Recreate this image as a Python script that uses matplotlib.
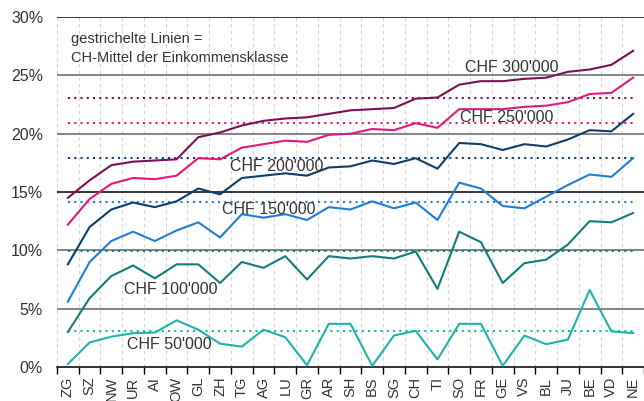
import matplotlib
matplotlib.use('Agg')
import matplotlib.pyplot as plt
import numpy as np

plt.rcParams['font.family'] = ['Liberation Sans', 'DejaVu Sans']

cantons = ['ZG', 'SZ', 'NW', 'UR', 'AI', 'OW', 'GL', 'ZH', 'TG', 'AG', 'LU', 'GR', 'AR', 'SH',
           'BS', 'SG', 'CH', 'TI', 'SO', 'FR', 'GE', 'VS', 'BL', 'JU', 'BE', 'VD', 'NE']

chf300 = [14.5, 16.0, 17.3, 17.6, 17.7, 17.8, 19.7, 20.1, 20.7, 21.1, 21.3, 21.4, 21.7, 22.0,
          22.1, 22.2, 23.0, 23.1, 24.2, 24.5, 24.5, 24.7, 24.8, 25.3, 25.5, 25.9, 27.1]
chf250 = [12.2, 14.4, 15.7, 16.2, 16.1, 16.4, 17.9, 17.8, 18.8, 19.1, 19.4, 19.3, 19.9, 20.0,
          20.4, 20.3, 20.9, 20.5, 22.1, 22.1, 22.1, 22.3, 22.4, 22.7, 23.4, 23.5, 24.8]
chf200 = [8.8, 12.0, 13.5, 14.1, 13.7, 14.2, 15.3, 14.8, 16.2, 16.4, 16.6, 16.4, 17.1, 17.2,
          17.7, 17.4, 17.9, 17.0, 19.2, 19.1, 18.6, 19.1, 18.9, 19.5, 20.3, 20.2, 21.7]
chf150 = [5.6, 9.0, 10.8, 11.6, 10.8, 11.7, 12.4, 11.1, 13.1, 12.8, 13.1, 12.6, 13.7, 13.5,
          14.2, 13.6, 14.1, 12.6, 15.8, 15.3, 13.8, 13.6, 14.6, 15.6, 16.5, 16.3, 17.9]
chf100 = [3.0, 5.9, 7.8, 8.7, 7.6, 8.8, 8.8, 7.2, 9.0, 8.5, 9.5, 7.5, 9.5, 9.3,
          9.5, 9.3, 9.9, 6.7, 11.6, 10.7, 7.2, 8.9, 9.2, 10.5, 12.5, 12.4, 13.2]
chf50 = [0.25, 2.1, 2.6, 2.9, 2.95, 4.0, 3.2, 2.0, 1.75, 3.2, 2.55, 0.15, 3.7, 3.7,
         0.1, 2.7, 3.1, 0.65, 3.7, 3.7, 0.1, 2.7, 1.95, 2.35, 6.6, 3.05, 2.9]

means = [23.05, 20.9, 17.9, 14.15, 9.95, 3.1]
labels = ["CHF 300'000", "CHF 250'000", "CHF 200'000", "CHF 150'000", "CHF 100'000", "CHF 50'000"]
colors = ['#7b0f58', '#e3187d', '#0f3d6e', '#1f7fd6', '#117d7c', '#1cb5ad']
series = [chf300, chf250, chf200, chf150, chf100, chf50]
label_pos = [(18.25, 25.7), (18.05, 21.4), (7.45, 17.2), (7.1, 13.5), (2.6, 6.6), (2.7, 1.95)]

fig = plt.figure(figsize=(6.44, 4.01), dpi=100)
ax = fig.add_axes([57 / 644, 1 - 367 / 401, 1 - 57 / 644, 350 / 401])

x = np.arange(len(cantons))

# vertical dashed grid at category boundaries
for b in np.arange(-0.5, len(cantons), 1.0):
    ax.axvline(b, color='#d4d4d4', lw=0.8, ls=(0, (3, 3)), zorder=0)

# horizontal reference lines
for yv in [5, 10, 20, 25]:
    ax.axhline(yv, color='#7a7a7a', lw=1.3, zorder=1)
for yv in [15, 30]:
    ax.axhline(yv, color='black', lw=1.1, zorder=1)

for vals, m, c in zip(series, means, colors):
    ax.plot(x, vals, color=c, lw=1.5, zorder=3)
    ax.plot([x[0], x[-1]], [m, m], color=c, lw=1.5, ls=(0, (1, 2)), zorder=2)

for lab, (lx, ly) in zip(labels, label_pos):
    ax.text(lx, ly, lab, fontsize=11.5, color='#333333', ha='left', va='center', zorder=4)

ax.text(0.15, 28.7, 'gestrichelte Linien =\nCH-Mittel der Einkommensklasse',
        fontsize=10.5, color='#333333', ha='left', va='top', linespacing=1.45)

ax.set_xlim(-0.46, 26.37)
ax.set_ylim(0, 30)
ax.set_yticks([0, 5, 10, 15, 20, 25, 30])
ax.set_yticklabels(['0%', '5%', '10%', '15%', '20%', '25%', '30%'])
ax.set_xticks(x)
ax.set_xticklabels(cantons, rotation=90)
ax.set_xticks(np.arange(-0.5, len(cantons), 1.0), minor=True)
ax.tick_params(axis='y', length=0, pad=10, labelsize=11.5, labelcolor='#333333')
ax.tick_params(axis='x', which='major', length=0, pad=7, labelsize=10.5, labelcolor='#333333')
ax.tick_params(axis='x', which='minor', length=5, width=1, color='black')

for s in ['left', 'right', 'top']:
    ax.spines[s].set_visible(False)
ax.spines['bottom'].set_linewidth(1.1)
ax.spines['bottom'].set_color('black')

fig.savefig('out.png', dpi=100)
